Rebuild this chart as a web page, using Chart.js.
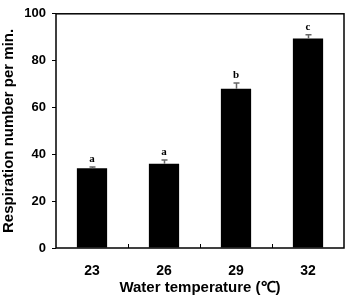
<!DOCTYPE html>
<html>
<head>
<meta charset="utf-8">
<script src="https://cdn.jsdelivr.net/npm/chart.js@4"></script>
<style>
  html, body { margin: 0; padding: 0; background: #fff; }
  #wrap { width: 350px; height: 304px; }
</style>
</head>
<body>
<div id="wrap"><canvas id="chart" width="350" height="304"></canvas></div>
<script>
const temperatures = ['23', '26', '29', '32'];
const respiration = [34, 36, 68, 89.5];
const errors = [0.6, 1.6, 2.4, 1.6];
const letters = ['a', 'a', 'b', 'c'];
const yTicks = [0, 20, 40, 60, 80, 100];

const FONT = "'Liberation Sans', Arial, sans-serif";

// error bars, significance letters, box frame and inner x ticks
const extras = {
    id: 'extras',
    afterDatasetsDraw(chart) {
        const ctx = chart.ctx;
        const area = chart.chartArea;
        const x = chart.scales.x;
        const y = chart.scales.y;
        const meta = chart.getDatasetMeta(0);

        ctx.save();
        ctx.strokeStyle = '#666';
        ctx.lineWidth = 1.5;
        meta.data.forEach((bar, i) => {
            const top = y.getPixelForValue(respiration[i] + errors[i]);
            const cx = Math.round(bar.x) + 0.5;
            ctx.beginPath();
            ctx.moveTo(cx, bar.y);
            ctx.lineTo(cx, top);
            ctx.moveTo(cx - 3, top);
            ctx.lineTo(cx + 3, top);
            ctx.stroke();

            ctx.fillStyle = '#000';
            ctx.font = "bold 11px 'Liberation Serif', 'Times New Roman', serif";
            ctx.textAlign = 'center';
            ctx.textBaseline = 'bottom';
            ctx.fillText(letters[i], bar.x, top - 2);
        });

        ctx.strokeStyle = '#000';
        ctx.lineWidth = 1.5;
        ctx.strokeRect(area.left, area.top, area.right - area.left, area.bottom - area.top);

        ctx.lineWidth = 1;
        for (let i = 1; i < temperatures.length; i++) {
            const px = Math.round((x.getPixelForTick(i - 1) + x.getPixelForTick(i)) / 2) + 0.5;
            ctx.beginPath();
            ctx.moveTo(px, area.bottom);
            ctx.lineTo(px, area.bottom - 4);
            ctx.stroke();
        }
        ctx.restore();
    }
};

new Chart(document.getElementById('chart'), {
    type: 'bar',
    data: {
        labels: temperatures,
        datasets: [{
            data: respiration,
            backgroundColor: '#000',
            borderWidth: 0,
            barPercentage: 0.42,
            categoryPercentage: 1
        }]
    },
    options: {
        responsive: false,
        animation: false,
        layout: { padding: { top: 8, right: 6, left: 0, bottom: 0 } },
        plugins: { legend: { display: false }, tooltip: { enabled: false } },
        scales: {
            x: {
                border: { display: false },
                grid: { display: false },
                ticks: { color: '#000', font: { family: FONT, size: 14, weight: 'bold' }, padding: 7 },
                title: {
                    display: true,
                    text: 'Water temperature (℃)',
                    color: '#000',
                    font: { family: FONT, size: 15, weight: 'bold' },
                    padding: { top: 2, bottom: 7 }
                },
                afterFit(scale) { scale.height = 56; }
            },
            y: {
                min: 0,
                max: 100,
                afterBuildTicks(scale) { scale.ticks = yTicks.map(v => ({ value: v })); },
                border: { display: false },
                grid: { drawOnChartArea: false, tickLength: 4, color: '#000' },
                ticks: { color: '#000', font: { family: FONT, size: 13, weight: 'bold' }, padding: 6 },
                title: {
                    display: true,
                    text: 'Respiration number per min.',
                    color: '#000',
                    font: { family: FONT, size: 15, weight: 'bold' },
                    padding: { top: 0, bottom: 0 }
                },
                afterFit(scale) { scale.width = 56; }
            }
        }
    },
    plugins: [extras]
});
</script>
</body>
</html>
